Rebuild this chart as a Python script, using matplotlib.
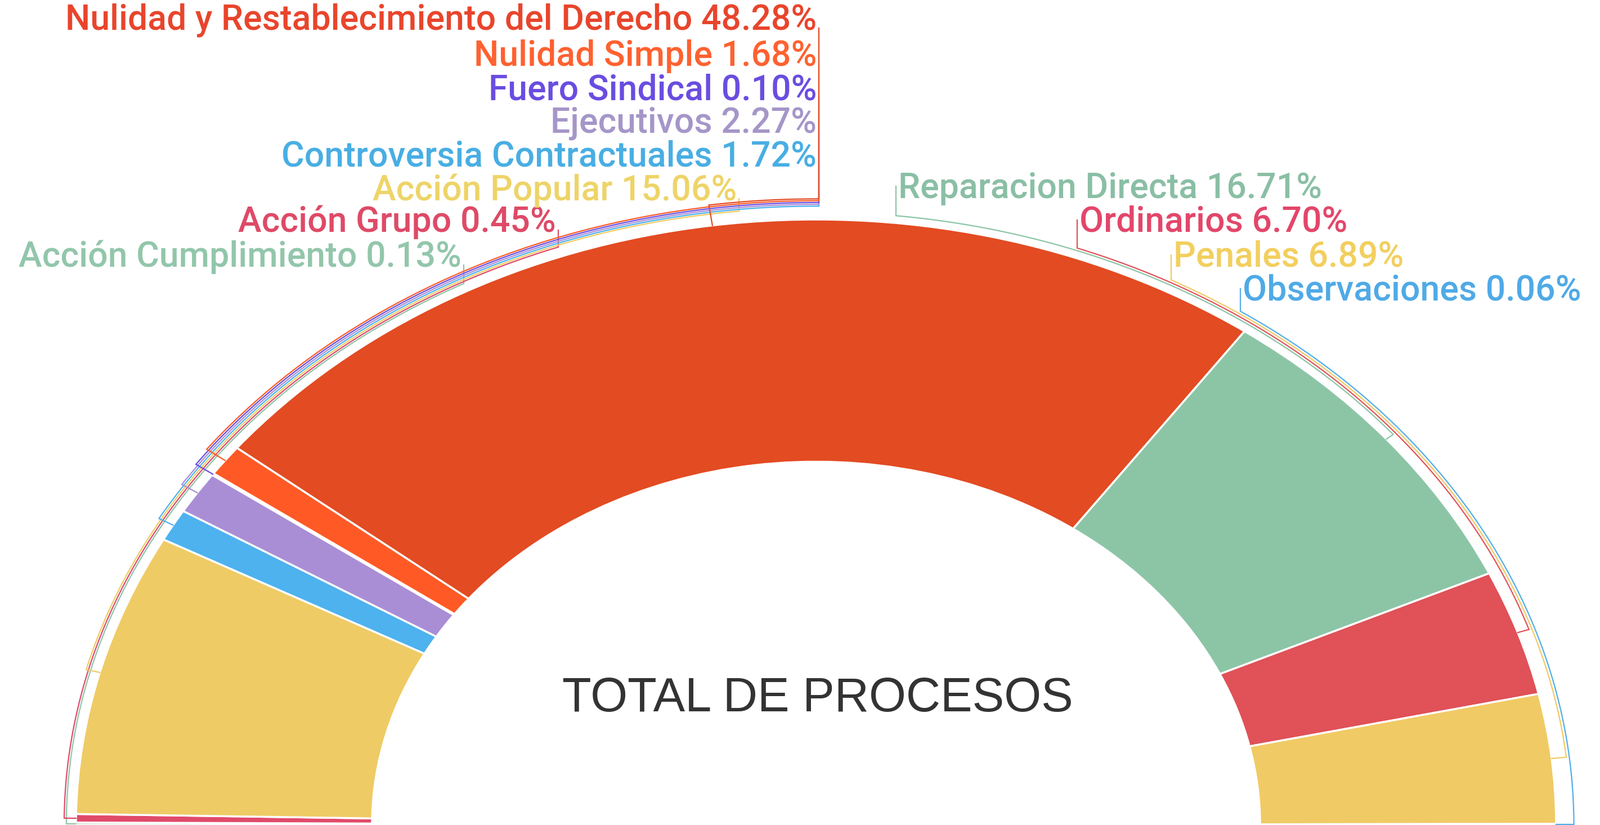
import numpy as np
import matplotlib.pyplot as plt
from matplotlib.patches import Wedge


#%% Datos
categorias = ["Acción Cumplimiento", "Acción Grupo", "Acción Popular", "Controversia Contractuales",
              "Ejecutivos", "Fuero Sindical", "Nulidad Simple", "Nulidad y Restablecimiento del Derecho",
              "Reparacion Directa", "Ordinarios", "Penales", "Observaciones"]
porcentajes = [0.13, 0.45, 15.06, 1.72, 2.27, 0.10, 1.68, 48.28, 16.71, 6.70, 6.89, 0.06]

colores = ["#8FC6A8", "#E04A6A", "#EFCB65", "#4DB2EE", "#A98ED6", "#6A4DE0",
           "#FF5A26", "#E34B22", "#8CC5A6", "#E05158", "#F0CA64", "#52AEEA"]
colores_texto = ["#92C6AB", "#DE4A67", "#EED468", "#48AEE3", "#A596C8", "#6A4DE0",
                 "#FF6130", "#E8452C", "#8ABFA5", "#E3466A", "#F2CF5E", "#4FAAE6"]

# posicion de las etiquetas (pixeles de la imagen)
lado = ["izq"] * 8 + ["der"] * 4
etiqueta_x = [820, 988, 1309, 1451, 1451, 1451, 1451, 1451, 1596, 1918, 2085, 2208]
etiqueta_y = [457, 395, 339, 279, 219, 160, 100, 36, 335, 395, 457, 517]


#%% Geometria
W, H = 2843, 1466
CX, CY = 1450, 1466
RX, RY = 1315, 1076


def dx(px):
    return (px - CX) / RX


def dy(py):
    return (CY - py) / RY


escala = 180.0 / np.sum(porcentajes)
fin = 180.0 - np.cumsum(porcentajes) * escala
inicio = fin + np.array(porcentajes) * escala
medio = (inicio + fin) / 2


#%% Grafico
fig = plt.figure(figsize=(W / 100, H / 100), dpi=100)
ax = fig.add_axes([0, 0, 1, 1])
ax.set_xlim(dx(0), dx(W))
ax.set_ylim(dy(H), dy(0))
ax.axis("off")

for i in range(len(categorias)):
    ax.add_patch(Wedge((0, 0), 1.0, fin[i], inicio[i], width=0.4, facecolor=colores[i],
                       edgecolor="white", linewidth=2.5))

for i in range(len(categorias)):
    if lado[i] == "izq":
        r = 1.013 + 0.003 * i
        x0 = dx(etiqueta_x[i] + 4)
        y0 = dy(etiqueta_y[i] + 14)
    else:
        r = 1.012 + 0.004 * (i - 8)
        x0 = dx(etiqueta_x[i] - 4)
        y0 = dy(etiqueta_y[i] - 4)
    t_e = np.degrees(np.arccos(np.clip(x0 / r, -1, 1)))
    t = np.radians(np.linspace(t_e, medio[i], 200))
    xs = np.concatenate([[x0, x0], r * np.cos(t), [np.cos(t[-1])]])
    ys = np.concatenate([[y0, r * np.sin(t[0])], r * np.sin(t), [np.sin(t[-1])]])
    ax.plot(xs, ys, color=colores[i], linewidth=1.6, solid_joinstyle="miter")
    texto = "{} {:.2f}%".format(categorias[i], porcentajes[i])
    if lado[i] == "izq":
        ax.text(dx(etiqueta_x[i]), dy(etiqueta_y[i]), texto, ha="right", va="center",
                color=colores_texto[i], fontsize=45, family="Roboto", fontweight="medium")
    else:
        ax.text(dx(etiqueta_x[i]), dy(etiqueta_y[i]), texto, ha="left", va="center",
                color=colores_texto[i], fontsize=45, family="Roboto", fontweight="medium")

ax.text(dx(1453), dy(1242), "TOTAL DE PROCESOS", ha="center", va="center",
        color="#333333", fontsize=61, family="Liberation Sans")

fig.savefig("out.png", dpi=100, facecolor="white")
